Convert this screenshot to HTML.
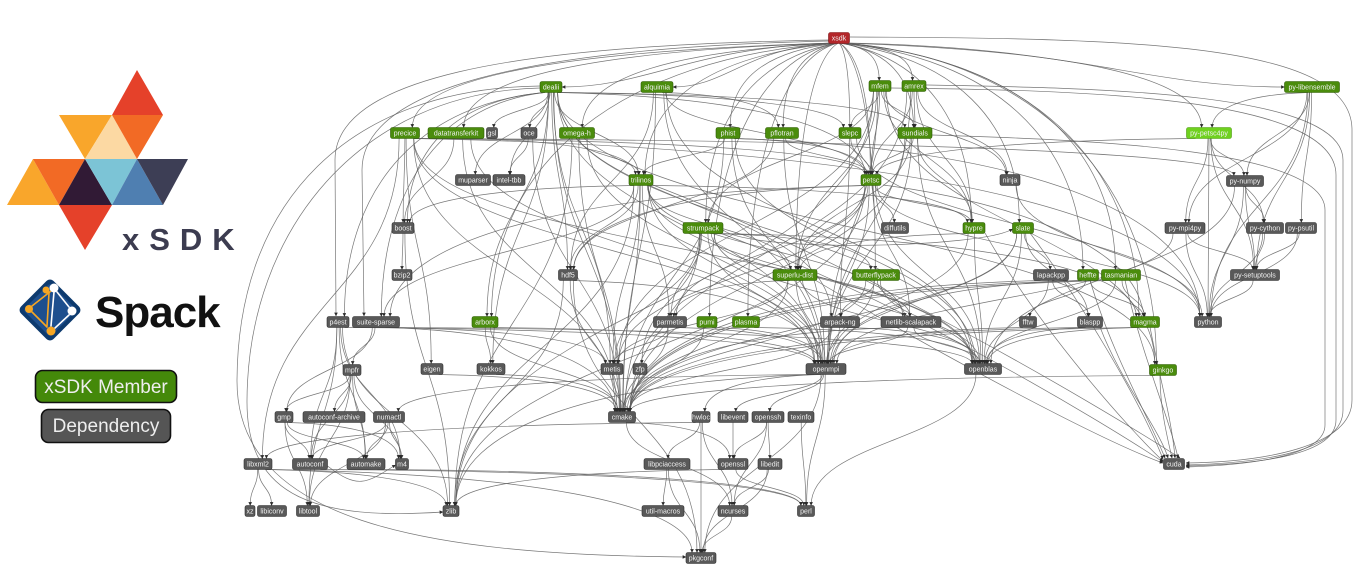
<!DOCTYPE html>
<html><head><meta charset="utf-8">
<style>
html,body{margin:0;padding:0;background:#fff;}
body{width:1366px;height:575px;overflow:hidden;}
svg{display:block;font-family:"Liberation Sans",Arial,sans-serif;}
#nodes text{font-size:7px;fill:#f2f2f2;text-anchor:middle;}
#nodes .g rect{fill:#4a8c0c;stroke:#2c5a04;stroke-width:0.6;}
#nodes .d rect{fill:#595959;stroke:#2e2e2e;stroke-width:0.6;}
#nodes .l rect{fill:#6fd11f;stroke:#4d9a10;stroke-width:0.6;}
#nodes .r rect{fill:#b3262a;stroke:#7a1416;stroke-width:0.6;}
#edges path{fill:none;stroke:#5e5e5e;stroke-width:0.7;stroke-opacity:0.85;marker-end:url(#ar);}
</style></head>
<body>
<svg width="1366" height="575" viewBox="0 0 1366 575" xmlns="http://www.w3.org/2000/svg">
<defs>
<marker id="ar" viewBox="0 0 6 6" refX="5.6" refY="3" markerWidth="3.6" markerHeight="3.6" orient="auto" markerUnits="userSpaceOnUse"><path d="M0,0L6,3L0,6z" fill="#2a2a2a"/></marker>
</defs>

<!-- xSDK logo -->
<g>
<polygon points="137,70 112,115 163,115" fill="#e5412a"/>
<polygon points="59,115 112,115 85,159" fill="#f9a62b"/>
<polygon points="112,115 85,159 137,159" fill="#fcd9a3"/>
<polygon points="112,115 163,115 137,159" fill="#f26a25"/>
<polygon points="33,159 7,205 59,205" fill="#f9a62b"/>
<polygon points="33,159 85,159 59,205" fill="#f26a25"/>
<polygon points="85,159 59,205 112,205" fill="#311a35"/>
<polygon points="85,159 137,159 112,205" fill="#7cc4d6"/>
<polygon points="137,159 112,205 163,205" fill="#4f7fb1"/>
<polygon points="137,159 188,159 163,205" fill="#3d3e55"/>
<polygon points="59,205 112,205 85,250" fill="#e5412a"/>
<text x="122" y="250" font-size="31" font-weight="bold" letter-spacing="10" fill="#3c3c50">xSDK</text>
</g>

<!-- Spack logo -->
<g>
<g transform="translate(50,310) rotate(45)">
<rect x="-23" y="-23" width="46" height="46" rx="5" fill="#0d3a6e"/>
<rect x="-19" y="-19" width="38" height="38" rx="3" fill="#1d4f8e"/>
</g>
<g stroke-width="1.6" stroke-linecap="round">
<line x1="54" y1="292" x2="51" y2="326" stroke="#fff"/>
<line x1="49" y1="293" x2="47" y2="326" stroke="#f6a623"/>
<line x1="51" y1="291" x2="32" y2="306" stroke="#f6a623"/>
<line x1="57" y1="292" x2="69" y2="307" stroke="#fff"/>
<line x1="32" y1="312" x2="47" y2="327" stroke="#f6a623"/>
<line x1="69" y1="315" x2="55" y2="328" stroke="#fff"/>
</g>
<circle cx="46" cy="290" r="3.5" fill="#f6a623"/>
<circle cx="54" cy="288" r="4.5" fill="#fff"/>
<circle cx="29" cy="309" r="4" fill="#f6a623"/>
<circle cx="72" cy="311" r="4.5" fill="#fff"/>
<circle cx="51" cy="331" r="4.5" fill="#f6a623"/>
<text x="95" y="327" font-size="44" font-weight="bold" letter-spacing="-1" fill="#111">Spack</text>
</g>

<!-- Legend -->
<rect x="35.5" y="370.5" width="141" height="32" rx="7" fill="#44890a" stroke="#111" stroke-width="1.6"/>
<text x="106" y="393" font-size="19" text-anchor="middle" fill="#eee">xSDK Member</text>
<rect x="41.5" y="409.5" width="129" height="33" rx="7" fill="#555" stroke="#111" stroke-width="1.6"/>
<text x="106" y="432" font-size="19" text-anchor="middle" fill="#eee">Dependency</text>

<!-- Edges -->
<g id="edges">
<path d="M850,37 C1150,38 1352,45 1352,130 L1352,400 C1352,448 1260,462 1186,463"/>
<path d="M926,85 C1100,88 1343,92 1343,160 L1343,410 C1343,452 1260,463 1186,465"/>
<path d="M891,88 C1080,90 1336,96 1336,175 L1336,420 C1336,455 1260,464 1186,466"/>
<path d="M932,135 C1100,140 1325,150 1325,210 L1325,425 C1325,455 1255,465 1186,467"/>
<path d="M540,86 C350,88 238,200 237,380 C236,520 420,555 686,557"/>
<path d="M540,88 C360,92 248,230 247,400 C246,500 320,520 443,512"/>
<path d="M830,40 C500,45 335,80 335,160 L336,316"/>
<path d="M830,41 C520,48 362,90 362,170 L364,316"/>
<path d="M883,185 C1000,200 1120,240 1140,300 L1145,316"/>
<path d="M1160,375 C1160,410 1168,440 1172,458"/>
<path d="M1100,327 C1120,380 1160,430 1168,458"/>
<path d="M1150,327 C1160,380 1172,420 1175,458"/>
<path d="M1090,280 C1110,350 1150,420 1165,458"/>
<path d="M1125,280 C1140,350 1170,420 1178,458"/>
<path d="M1030,233 C1080,300 1140,400 1163,459"/>
<path d="M985,233 C1040,330 1130,430 1163,461"/>
<path d="M720,233 C900,300 1100,420 1163,462"/>
<path d="M815,280 C950,360 1100,440 1163,463"/>
<path d="M653,185 C850,260 1090,400 1180,458"/>
</g>

<!-- Nodes -->
<g id="nodes">
<g class="r"><rect x="828.5" y="32.5" width="21" height="11" rx="2"/><text x="839" y="40.5">xsdk</text></g>
<g class="g"><rect x="540" y="81.5" width="22" height="11" rx="2"/><text x="551" y="89.5">dealii</text></g>
<g class="g"><rect x="641" y="81.5" width="32" height="11" rx="2"/><text x="657" y="89.5">alquimia</text></g>
<g class="g"><rect x="869" y="80.5" width="22" height="11" rx="2"/><text x="880" y="88.5">mfem</text></g>
<g class="g"><rect x="902" y="80.5" width="24" height="11" rx="2"/><text x="914" y="88.5">amrex</text></g>
<g class="g"><rect x="1284.5" y="81.5" width="55" height="11" rx="2"/><text x="1312" y="89.5">py-libensemble</text></g>
<g class="g"><rect x="390.5" y="127.5" width="29" height="11" rx="2"/><text x="405" y="135.5">precice</text></g>
<g class="g"><rect x="428" y="127.5" width="56" height="11" rx="2"/><text x="456" y="135.5">datatransferkit</text></g>
<g class="d"><rect x="486.5" y="127.5" width="11" height="11" rx="2"/><text x="492" y="135.5">gsl</text></g>
<g class="d"><rect x="521" y="127.5" width="16" height="11" rx="2"/><text x="529" y="135.5">oce</text></g>
<g class="g"><rect x="559.5" y="127.5" width="35" height="11" rx="2"/><text x="577" y="135.5">omega-h</text></g>
<g class="g"><rect x="716" y="127.5" width="24" height="11" rx="2"/><text x="728" y="135.5">phist</text></g>
<g class="g"><rect x="765.5" y="127.5" width="33" height="11" rx="2"/><text x="782" y="135.5">pflotran</text></g>
<g class="g"><rect x="839" y="127.5" width="22" height="11" rx="2"/><text x="850" y="135.5">slepc</text></g>
<g class="g"><rect x="898" y="127.5" width="34" height="11" rx="2"/><text x="915" y="135.5">sundials</text></g>
<g class="l"><rect x="1186.5" y="127.5" width="45" height="11" rx="2"/><text x="1209" y="135.5">py-petsc4py</text></g>
<g class="d"><rect x="455.5" y="174.5" width="35" height="11" rx="2"/><text x="473" y="182.5">muparser</text></g>
<g class="d"><rect x="493" y="174.5" width="32" height="11" rx="2"/><text x="509" y="182.5">intel-tbb</text></g>
<g class="g"><rect x="629" y="174.5" width="24" height="11" rx="2"/><text x="641" y="182.5">trilinos</text></g>
<g class="g"><rect x="861" y="174.5" width="20" height="11" rx="2"/><text x="871" y="182.5">petsc</text></g>
<g class="d"><rect x="1000" y="174.5" width="20" height="11" rx="2"/><text x="1010" y="182.5">ninja</text></g>
<g class="d"><rect x="1226.5" y="175.5" width="37" height="11" rx="2"/><text x="1245" y="183.5">py-numpy</text></g>
<g class="d"><rect x="392" y="222.5" width="22" height="11" rx="2"/><text x="403" y="230.5">boost</text></g>
<g class="g"><rect x="683" y="222.5" width="40" height="11" rx="2"/><text x="703" y="230.5">strumpack</text></g>
<g class="d"><rect x="881.5" y="222.5" width="27" height="11" rx="2"/><text x="895" y="230.5">diffutils</text></g>
<g class="g"><rect x="963" y="222.5" width="22" height="11" rx="2"/><text x="974" y="230.5">hypre</text></g>
<g class="g"><rect x="1012.5" y="222.5" width="21" height="11" rx="2"/><text x="1023" y="230.5">slate</text></g>
<g class="d"><rect x="1165" y="222.5" width="40" height="11" rx="2"/><text x="1185" y="230.5">py-mpi4py</text></g>
<g class="d"><rect x="1246.5" y="222.5" width="37" height="11" rx="2"/><text x="1265" y="230.5">py-cython</text></g>
<g class="d"><rect x="1285.5" y="222.5" width="31" height="11" rx="2"/><text x="1301" y="230.5">py-psutil</text></g>
<g class="d"><rect x="392" y="269.5" width="20" height="11" rx="2"/><text x="402" y="277.5">bzip2</text></g>
<g class="d"><rect x="558.5" y="269.5" width="19" height="11" rx="2"/><text x="568" y="277.5">hdf5</text></g>
<g class="g"><rect x="773" y="269.5" width="44" height="11" rx="2"/><text x="795" y="277.5">superlu-dist</text></g>
<g class="g"><rect x="852.5" y="269.5" width="47" height="11" rx="2"/><text x="876" y="277.5">butterflypack</text></g>
<g class="d"><rect x="1033.5" y="269.5" width="35" height="11" rx="2"/><text x="1051" y="277.5">lapackpp</text></g>
<g class="g"><rect x="1077.5" y="269.5" width="21" height="11" rx="2"/><text x="1088" y="277.5">heffte</text></g>
<g class="g"><rect x="1101.5" y="269.5" width="39" height="11" rx="2"/><text x="1121" y="277.5">tasmanian</text></g>
<g class="d"><rect x="1230.5" y="269.5" width="49" height="11" rx="2"/><text x="1255" y="277.5">py-setuptools</text></g>
<g class="d"><rect x="327" y="316.5" width="22" height="11" rx="2"/><text x="338" y="324.5">p4est</text></g>
<g class="d"><rect x="352.5" y="316.5" width="47" height="11" rx="2"/><text x="376" y="324.5">suite-sparse</text></g>
<g class="g"><rect x="472" y="316.5" width="26" height="11" rx="2"/><text x="485" y="324.5">arborx</text></g>
<g class="d"><rect x="653.5" y="316.5" width="33" height="11" rx="2"/><text x="670" y="324.5">parmetis</text></g>
<g class="g"><rect x="697" y="316.5" width="20" height="11" rx="2"/><text x="707" y="324.5">pumi</text></g>
<g class="g"><rect x="732.5" y="316.5" width="27" height="11" rx="2"/><text x="746" y="324.5">plasma</text></g>
<g class="d"><rect x="820.5" y="316.5" width="39" height="11" rx="2"/><text x="840" y="324.5">arpack-ng</text></g>
<g class="d"><rect x="881" y="316.5" width="60" height="11" rx="2"/><text x="911" y="324.5">netlib-scalapack</text></g>
<g class="d"><rect x="1019.5" y="316.5" width="17" height="11" rx="2"/><text x="1028" y="324.5">fftw</text></g>
<g class="d"><rect x="1077.5" y="316.5" width="25" height="11" rx="2"/><text x="1090" y="324.5">blaspp</text></g>
<g class="g"><rect x="1130.5" y="316.5" width="29" height="11" rx="2"/><text x="1145" y="324.5">magma</text></g>
<g class="d"><rect x="1194.5" y="316.5" width="27" height="11" rx="2"/><text x="1208" y="324.5">python</text></g>
<g class="d"><rect x="343" y="364.5" width="18" height="11" rx="2"/><text x="352" y="372.5">mpfr</text></g>
<g class="d"><rect x="421" y="363.5" width="22" height="11" rx="2"/><text x="432" y="371.5">eigen</text></g>
<g class="d"><rect x="477" y="363.5" width="28" height="11" rx="2"/><text x="491" y="371.5">kokkos</text></g>
<g class="d"><rect x="601" y="363.5" width="22" height="11" rx="2"/><text x="612" y="371.5">metis</text></g>
<g class="d"><rect x="633" y="363.5" width="14" height="11" rx="2"/><text x="640" y="371.5">zfp</text></g>
<g class="d"><rect x="806" y="363.5" width="40" height="11" rx="2"/><text x="826" y="371.5">openmpi</text></g>
<g class="d"><rect x="964.5" y="363.5" width="37" height="11" rx="2"/><text x="983" y="371.5">openblas</text></g>
<g class="g"><rect x="1149.5" y="364.5" width="27" height="11" rx="2"/><text x="1163" y="372.5">ginkgo</text></g>
<g class="d"><rect x="275" y="411.5" width="18" height="11" rx="2"/><text x="284" y="419.5">gmp</text></g>
<g class="d"><rect x="303" y="411.5" width="62" height="11" rx="2"/><text x="334" y="419.5">autoconf-archive</text></g>
<g class="d"><rect x="373.5" y="411.5" width="31" height="11" rx="2"/><text x="389" y="419.5">numactl</text></g>
<g class="d"><rect x="608.5" y="411.5" width="27" height="11" rx="2"/><text x="622" y="419.5">cmake</text></g>
<g class="d"><rect x="692" y="411.5" width="18" height="11" rx="2"/><text x="701" y="419.5">hwloc</text></g>
<g class="d"><rect x="718" y="411.5" width="30" height="11" rx="2"/><text x="733" y="419.5">libevent</text></g>
<g class="d"><rect x="752" y="411.5" width="32" height="11" rx="2"/><text x="768" y="419.5">openssh</text></g>
<g class="d"><rect x="788" y="411.5" width="26" height="11" rx="2"/><text x="801" y="419.5">texinfo</text></g>
<g class="d"><rect x="244" y="458.5" width="28" height="11" rx="2"/><text x="258" y="466.5">libxml2</text></g>
<g class="d"><rect x="292.5" y="458.5" width="35" height="11" rx="2"/><text x="310" y="466.5">autoconf</text></g>
<g class="d"><rect x="347" y="458.5" width="38" height="11" rx="2"/><text x="366" y="466.5">automake</text></g>
<g class="d"><rect x="395.5" y="458.5" width="13" height="11" rx="2"/><text x="402" y="466.5">m4</text></g>
<g class="d"><rect x="644" y="458.5" width="46" height="11" rx="2"/><text x="667" y="466.5">libpciaccess</text></g>
<g class="d"><rect x="718" y="458.5" width="30" height="11" rx="2"/><text x="733" y="466.5">openssl</text></g>
<g class="d"><rect x="758" y="458.5" width="24" height="11" rx="2"/><text x="770" y="466.5">libedit</text></g>
<g class="d"><rect x="1163.5" y="458.5" width="21" height="11" rx="2"/><text x="1174" y="466.5">cuda</text></g>
<g class="d"><rect x="245" y="505.5" width="10" height="11" rx="2"/><text x="250" y="513.5">xz</text></g>
<g class="d"><rect x="257.5" y="505.5" width="29" height="11" rx="2"/><text x="272" y="513.5">libiconv</text></g>
<g class="d"><rect x="296.5" y="505.5" width="23" height="11" rx="2"/><text x="308" y="513.5">libtool</text></g>
<g class="d"><rect x="443" y="505.5" width="16" height="11" rx="2"/><text x="451" y="513.5">zlib</text></g>
<g class="d"><rect x="642" y="505.5" width="42" height="11" rx="2"/><text x="663" y="513.5">util-macros</text></g>
<g class="d"><rect x="718" y="505.5" width="30" height="11" rx="2"/><text x="733" y="513.5">ncurses</text></g>
<g class="d"><rect x="797.5" y="505.5" width="17" height="11" rx="2"/><text x="806" y="513.5">perl</text></g>
<g class="d"><rect x="686" y="552.5" width="30" height="11" rx="2"/><text x="701" y="560.5">pkgconf</text></g>
</g>
</svg>
<script>
(function(){
var N={};
var gs=document.querySelectorAll('#nodes g');
for(var i=0;i<gs.length;i++){var r=gs[i].querySelector('rect');var t=gs[i].querySelector('text').textContent;
var w=+r.getAttribute('width');N[t]=[+r.getAttribute('x')+w/2,+r.getAttribute('y')+5.5,w];}
var E=[
"xsdk dealii alquimia mfem amrex py-libensemble precice datatransferkit omega-h phist pflotran slepc sundials py-petsc4py trilinos petsc hypre slate strumpack superlu-dist butterflypack heffte tasmanian arborx pumi plasma magma ginkgo",
"dealii p4est* suite-sparse* boost* gsl oce muparser intel-tbb trilinos petsc slepc sundials hdf5 arpack-ng metis cmake openmpi openblas ginkgo arborx kokkos",
"alquimia pflotran petsc hdf5 cmake openmpi openblas",
"mfem sundials petsc hypre superlu-dist strumpack metis zlib ginkgo openmpi ninja slepc",
"amrex sundials hypre petsc cmake openmpi ninja",
"py-libensemble py-petsc4py py-numpy py-mpi4py py-psutil py-setuptools python",
"precice boost petsc openmpi cmake libxml2 python py-numpy eigen openblas",
"datatransferkit trilinos boost cmake openmpi",
"oce intel-tbb cmake",
"omega-h trilinos cmake zlib openmpi",
"phist trilinos petsc cmake openmpi openblas python",
"pflotran petsc hdf5 openmpi",
"slepc petsc arpack-ng python",
"sundials petsc hypre superlu-dist cmake openmpi openblas",
"py-petsc4py petsc py-numpy py-mpi4py py-setuptools python py-cython",
"trilinos hdf5 boost metis parmetis superlu-dist hypre openmpi openblas cmake netlib-scalapack suite-sparse zlib",
"petsc hypre superlu-dist hdf5 metis parmetis openmpi openblas zlib python diffutils netlib-scalapack suite-sparse",
"ninja python",
"py-numpy python py-setuptools py-cython openblas",
"boost bzip2 zlib",
"strumpack parmetis metis butterflypack zfp netlib-scalapack openmpi openblas cmake slate magma",
"hypre openmpi openblas superlu-dist",
"slate openmpi openblas blaspp lapackpp cmake",
"py-mpi4py python py-setuptools openmpi",
"py-cython python py-setuptools",
"py-psutil python py-setuptools",
"hdf5 cmake zlib openmpi pkgconf",
"superlu-dist parmetis metis openmpi openblas cmake",
"butterflypack arpack-ng netlib-scalapack openmpi openblas cmake",
"lapackpp blaspp openblas cmake",
"heffte fftw cmake openmpi magma",
"tasmanian magma openblas cmake",
"py-setuptools python",
"p4est openmpi zlib autoconf automake libtool m4",
"suite-sparse mpfr gmp openblas cmake metis",
"arborx kokkos cmake openmpi",
"parmetis metis openmpi cmake",
"pumi openmpi cmake",
"plasma openblas",
"arpack-ng openmpi openblas cmake",
"netlib-scalapack openmpi openblas cmake",
"fftw openmpi",
"blaspp openblas cmake",
"magma openblas cmake",
"mpfr gmp autoconf-archive autoconf automake libtool m4",
"eigen cmake","kokkos cmake","metis cmake","zfp cmake",
"openmpi hwloc libevent openssh zlib perl pkgconf numactl",
"openblas perl","ginkgo cmake",
"gmp autoconf automake libtool m4",
"numactl autoconf automake libtool m4",
"cmake openssl ncurses",
"hwloc libpciaccess libxml2 ncurses pkgconf",
"libevent openssl",
"openssh openssl libedit ncurses",
"texinfo perl",
"libxml2 xz libiconv zlib pkgconf",
"autoconf m4 perl","automake perl",
"libpciaccess util-macros pkgconf",
"openssl perl zlib",
"libedit ncurses pkgconf",
"ncurses pkgconf"
];
function cl(v,m){return Math.max(-m,Math.min(m,v));}
function f(v){return Math.round(v*10)/10;}
function route(a,b,st){
var A=N[a],B=N[b];var ax=A[0],ay=A[1],aw=A[2]/2,bx=B[0],by=B[1],bw=B[2]/2;
var dx=bx-ax,dy=by-ay,d,s;
if(Math.abs(dy)<10){s=dx>=0?1:-1;var x1=ax+s*aw,x2=bx-s*bw;
d="M"+f(x1)+","+f(ay+2)+" C"+f(x1+s*30)+","+f(ay+25)+" "+f(x2-s*30)+","+f(by+20)+" "+f(x2)+","+f(by+1);}
else if(dy<0){d="M"+f(ax)+","+f(ay-5.5)+" C"+f(ax)+","+f(ay-30)+" "+f(bx)+","+f(by+30)+" "+f(bx)+","+f(by+5.5);}
else if(a==="xsdk"){var sx=ax+cl(dx*0.012,9),sy=ay+5;
if(dy<60&&Math.abs(dx)>100){s=dx>=0?1:-1;var xe=bx-s*bw;
d="M"+f(sx)+","+f(sy)+" C"+f(sx+dx*0.5)+","+f(sy+4)+" "+f(xe-s*Math.abs(dx)*0.3)+","+f(by)+" "+f(xe)+","+f(by);}
else{var tx=bx+cl(-dx*0.02,bw*0.5),ty=by-5.5;
d="M"+f(sx)+","+f(sy)+" C"+f(sx+dx*0.6)+","+f(sy+Math.min(dy*0.08,15))+" "+f(tx)+","+f(ty-dy*0.55)+" "+f(tx)+","+f(ty);}}
else{var sx2=ax+cl(dx*0.04,aw*0.6),sy2=ay+5.5,tx2=bx+cl(-dx*0.03,bw*0.6),ty2=by-5.5,h=ty2-sy2;
if(st==="q"||Math.abs(tx2-sx2)>2.6*h){d="M"+f(sx2)+","+f(sy2)+" C"+f(sx2+(tx2-sx2)*0.6)+","+f(sy2+h*0.05)+" "+f(tx2)+","+f(ty2-h*0.6)+" "+f(tx2)+","+f(ty2);}
else{d="M"+f(sx2)+","+f(sy2)+" C"+f(sx2)+","+f(sy2+h*0.5)+" "+f(tx2)+","+f(ty2-h*0.5)+" "+f(tx2)+","+f(ty2);}}
return d;}
var g=document.getElementById('edges');var ns="http://www.w3.org/2000/svg";
for(var k=0;k<E.length;k++){var p=E[k].trim().split(/\s+/);var a=p[0];
for(var j=1;j<p.length;j++){var b=p[j],st="";if(b.charAt(b.length-1)==="*"){b=b.slice(0,-1);st="q";}
if(!N[a]||!N[b])continue;var el=document.createElementNS(ns,"path");el.setAttribute("d",route(a,b,st));g.appendChild(el);}}
})();
</script>
</body></html>
